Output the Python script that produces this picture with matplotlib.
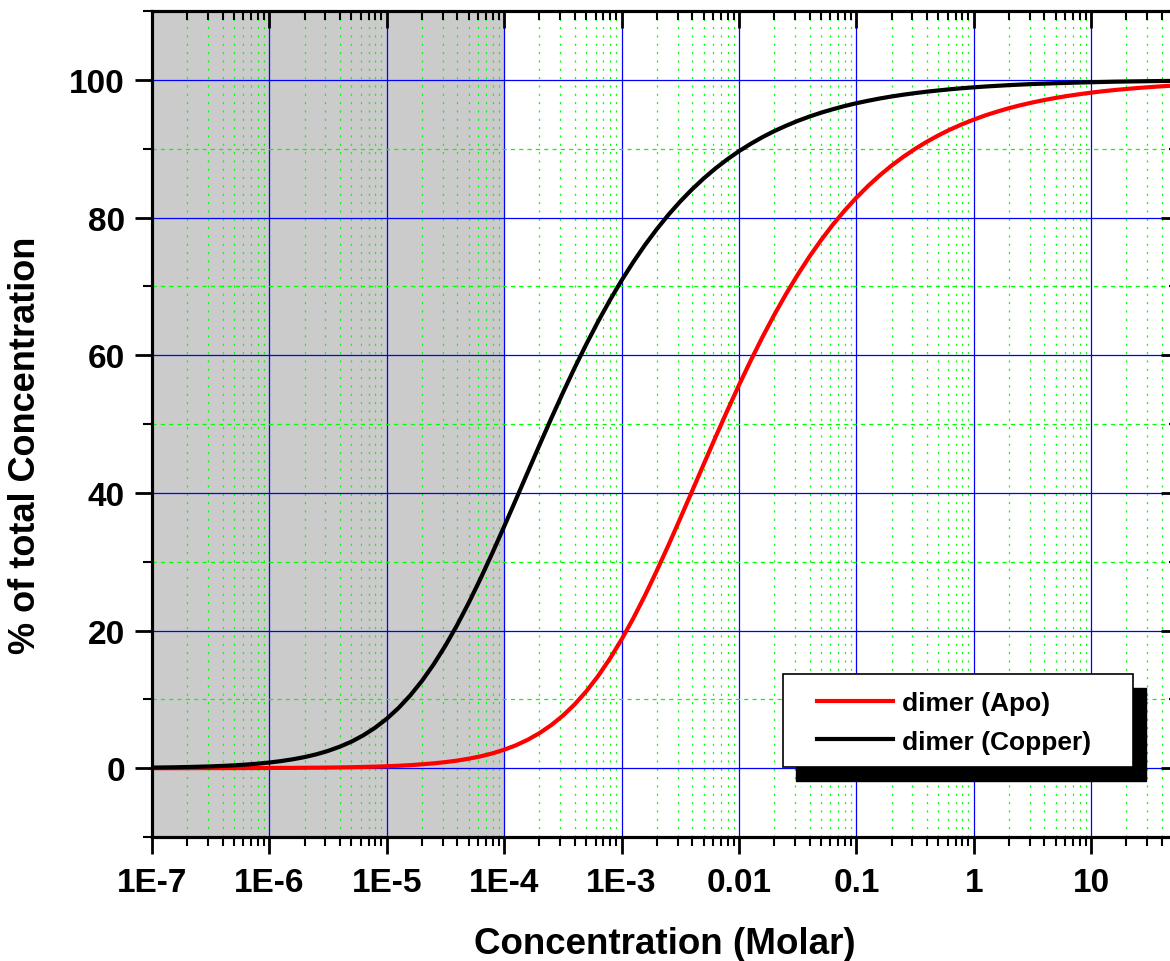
import matplotlib
matplotlib.use('Agg')
import matplotlib.pyplot as plt
from matplotlib.ticker import MultipleLocator, LogLocator, NullFormatter
from matplotlib.patches import Rectangle

plt.rcParams['font.family'] = ['Liberation Sans', 'DejaVu Sans']
plt.rcParams['font.weight'] = 'bold'
plt.rcParams['lines.scale_dashes'] = False

# total concentration (M)
conc = [1.0e-7, 1.585e-7, 2.512e-7, 3.162e-7, 3.981e-7, 5.012e-7, 6.310e-7, 7.943e-7,
        1.0e-6, 1.259e-6, 1.585e-6, 1.995e-6, 2.512e-6, 3.162e-6, 3.981e-6, 5.012e-6, 6.310e-6, 7.943e-6,
        1.0e-5, 1.259e-5, 1.585e-5, 1.995e-5, 2.512e-5, 3.162e-5, 3.981e-5, 5.012e-5, 6.310e-5, 7.943e-5,
        1.0e-4, 1.259e-4, 1.585e-4, 1.995e-4, 2.512e-4, 3.162e-4, 3.981e-4, 5.012e-4, 6.310e-4, 7.943e-4,
        1.0e-3, 1.259e-3, 1.585e-3, 1.995e-3, 2.512e-3, 3.162e-3, 3.981e-3, 5.012e-3, 6.310e-3, 7.943e-3,
        0.01, 0.01259, 0.01585, 0.01995, 0.02512, 0.03162, 0.03981, 0.05012, 0.06310, 0.07943,
        0.1, 0.1259, 0.1585, 0.1995, 0.2512, 0.3162, 0.3981, 0.5012, 0.6310, 0.7943,
        1.0, 1.259, 1.585, 1.995, 2.512, 3.162, 3.981, 5.012, 6.310, 7.943,
        10.0, 12.59, 15.85, 25.12, 39.81, 56.2]

# % of total concentration present as dimer
dimer_apo = [0.00, 0.00, 0.01, 0.01, 0.01, 0.01, 0.02, 0.02,
             0.03, 0.04, 0.04, 0.06, 0.07, 0.09, 0.11, 0.14, 0.18, 0.22,
             0.28, 0.35, 0.44, 0.56, 0.70, 0.88, 1.10, 1.38, 1.72, 2.15,
             2.68, 3.32, 4.12, 5.08, 6.24, 7.62, 9.26, 11.17, 13.38, 15.88,
             18.68, 21.77, 25.11, 28.68, 32.41, 36.28, 40.21, 44.16, 48.07, 51.91,
             55.63, 59.20, 62.61, 65.83, 68.85, 71.67, 74.30, 76.72, 78.96, 81.00,
             82.87, 84.58, 86.13, 87.54, 88.81, 89.96, 91.00, 91.94, 92.79, 93.54,
             94.22, 94.84, 95.38, 95.88, 96.32, 96.71, 97.06, 97.38, 97.66, 97.91,
             98.14, 98.34, 98.52, 98.82, 99.06, 99.21]

dimer_copper = [0.08, 0.13, 0.21, 0.26, 0.33, 0.41, 0.52, 0.65,
                0.82, 1.03, 1.29, 1.61, 2.01, 2.51, 3.12, 3.86, 4.77, 5.87,
                7.18, 8.74, 10.57, 12.68, 15.10, 17.81, 20.81, 24.08, 27.59, 31.28,
                35.11, 39.02, 42.97, 46.90, 50.77, 54.52, 58.15, 61.60, 64.88, 67.96,
                70.85, 73.53, 76.02, 78.30, 80.41, 82.33, 84.08, 85.68, 87.13, 88.44,
                89.63, 90.70, 91.67, 92.54, 93.32, 94.03, 94.66, 95.23, 95.73, 96.19,
                96.60, 96.96, 97.29, 97.58, 97.84, 98.07, 98.28, 98.46, 98.63, 98.78,
                98.91, 99.03, 99.13, 99.23, 99.31, 99.39, 99.45, 99.51, 99.56, 99.61,
                99.65, 99.69, 99.73, 99.78, 99.83, 99.85]

xticks = [1e-7, 1e-6, 1e-5, 1e-4, 1e-3, 1e-2, 1e-1, 1, 10]
xticklabels = ['1E-7', '1E-6', '1E-5', '1E-4', '1E-3', '0.01', '0.1', '1', '10']
yticks = [0, 20, 40, 60, 80, 100]
xlim = (1e-7, 55)
ylim = (-10, 110)

W, H = 1170, 962
fig = plt.figure(figsize=(W / 100, H / 100), dpi=100)
ax = fig.add_axes([152 / W, 1 - 838 / H, 1026 / W, 826 / H])

ax.set_xscale('log')
ax.set_xlim(xlim)
ax.set_ylim(ylim)

# low concentration region shaded
ax.axvspan(1e-7, 1e-4, color='#cbcbcb', lw=0, zorder=1)

ax.plot(conc, dimer_apo, color='#ff0000', lw=3, label='dimer (Apo)', zorder=3)
ax.plot(conc, dimer_copper, color='black', lw=3, label='dimer (Copper)', zorder=3)

ax.set_xticks(xticks)
ax.set_xticklabels(xticklabels)
ax.xaxis.set_minor_locator(LogLocator(base=10, subs=range(2, 10), numticks=50))
ax.xaxis.set_minor_formatter(NullFormatter())
ax.set_yticks(yticks)
ax.yaxis.set_minor_locator(MultipleLocator(10))

ax.set_axisbelow('line')
ax.grid(which='major', color='#0000ff', lw=0.9, ls='-')
ax.grid(which='minor', axis='x', color='#00ff00', lw=0.9, ls=(0, (1.5, 4.5)))
ax.grid(which='minor', axis='y', color='#00ff00', lw=0.9, ls=(0, (3, 3)))

ax.tick_params(which='both', direction='out', width=2, labelsize=24, pad=7,
               top=False, right=False)
ax.tick_params(which='major', length=12.5)
ax.tick_params(which='minor', length=6.5, width=1.5)
ax.tick_params(axis='x', pad=9)

# mirrored ticks pointing inwards on top and right
axt = ax.twiny()
axt.set_xscale('log')
axt.set_xlim(xlim)
axt.set_xticks(xticks)
axt.xaxis.set_minor_locator(LogLocator(base=10, subs=range(2, 10), numticks=50))
axt.xaxis.set_minor_formatter(NullFormatter())
axt.tick_params(which='both', direction='in', labeltop=False, width=2)
axt.tick_params(which='major', length=12.5)
axt.tick_params(which='minor', length=6.5, width=1.5)

axr = ax.twinx()
axr.set_ylim(ylim)
axr.set_yticks(yticks)
axr.yaxis.set_minor_locator(MultipleLocator(10))
axr.tick_params(which='both', direction='in', labelright=False, width=2)
axr.tick_params(which='major', length=12.5)
axr.tick_params(which='minor', length=6.5, width=1.5)

for a in (ax, axt, axr):
    for s in a.spines.values():
        s.set_linewidth(2.2)

ax.set_xlabel('Concentration (Molar)', fontsize=26.5, fontweight='bold')
ax.set_ylabel('% of total Concentration', fontsize=26, fontweight='bold')
ax.xaxis.set_label_coords(0.5, -0.108)
ax.yaxis.set_label_coords(-0.106, 0.476)

# legend box with a solid drop shadow
ax.add_patch(Rectangle((796 / W, 1 - 782 / H), 350 / W, 93 / H, transform=fig.transFigure,
                       facecolor='black', edgecolor='black', zorder=4))
ax.add_patch(Rectangle((783 / W, 1 - 768 / H), 350 / W, 93 / H, transform=fig.transFigure,
                       facecolor='white', edgecolor='black', lw=1.2, zorder=4.5))
leg = ax.legend(loc='center left', bbox_to_anchor=(817 / W, 1 - 723.5 / H),
                bbox_transform=fig.transFigure, frameon=False, borderpad=0,
                borderaxespad=0, handlelength=2.88, handletextpad=0.34,
                labelspacing=0.54, prop={'size': 19, 'weight': 'bold'})
leg.set_zorder(5)

plt.savefig('out.png', dpi=100)
